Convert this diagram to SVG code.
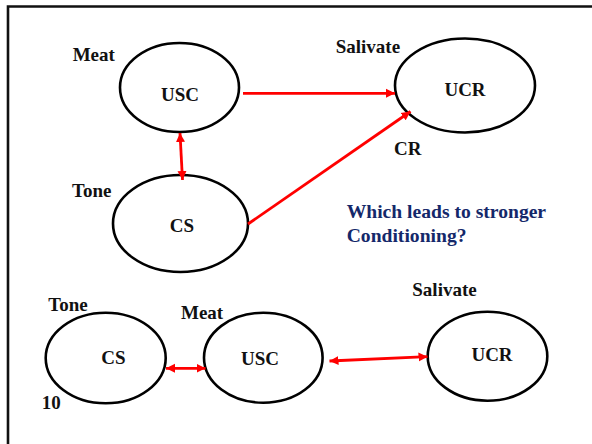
<svg xmlns="http://www.w3.org/2000/svg" width="592" height="444" viewBox="0 0 592 444" font-family="'Liberation Serif', 'Times New Roman', Times, serif" font-weight="bold" font-size="19">
<defs>
<style>
.node ellipse{fill:none;stroke:#000;stroke-width:2.6}
text{fill:#111}
.q{fill:#14286a;font-size:19.6px}
.conn line{stroke:#f00;stroke-width:2.8;fill:none}
</style>
<marker id="ah" markerUnits="userSpaceOnUse" markerWidth="10" markerHeight="10" refX="9" refY="4.5" orient="auto-start-reverse" viewBox="0 0 10 9">
<path d="M0,0 L9,4.5 L0,9 z" fill="#f00"/>
</marker>
</defs>
<rect width="592" height="444" fill="#fff"/>
<path d="M8,446 L8,6.5 L594,6.5" fill="none" stroke="#111" stroke-width="2.6"/>

<g id="usc1" class="node"><ellipse cx="179.5" cy="87.5" rx="59.5" ry="44.5"/><text x="180" y="101" text-anchor="middle">USC</text></g>
<g id="cs1" class="node"><ellipse cx="180.5" cy="223.5" rx="67.5" ry="48.5"/><text x="182" y="232" text-anchor="middle">CS</text></g>
<g id="ucr1" class="node"><ellipse cx="465" cy="85.5" rx="70" ry="47"/><text x="465" y="96" text-anchor="middle">UCR</text></g>
<g id="cs2" class="node"><ellipse cx="105.7" cy="358" rx="60" ry="45.3"/><text x="113.5" y="363.5" text-anchor="middle">CS</text></g>
<g id="usc2" class="node"><ellipse cx="263.3" cy="357.7" rx="59.3" ry="45"/><text x="260" y="364.5" text-anchor="middle">USC</text></g>
<g id="ucr2" class="node"><ellipse cx="487.5" cy="356.2" rx="59.8" ry="44.5"/><text x="492" y="361" text-anchor="middle">UCR</text></g>

<g id="connectors" class="conn">
<line x1="243" y1="93.3" x2="395" y2="93.3" marker-end="url(#ah)"/>
<line x1="248" y1="224" x2="410.5" y2="111.5" marker-end="url(#ah)"/>
<line x1="180" y1="133" x2="182.5" y2="180" marker-start="url(#ah)" marker-end="url(#ah)"/>
<line x1="166" y1="368.3" x2="205.5" y2="368.3" marker-start="url(#ah)" marker-end="url(#ah)"/>
<line x1="329.5" y1="361" x2="427.5" y2="356.7" marker-start="url(#ah)" marker-end="url(#ah)"/>
</g>

<g id="labels">
<text x="72.7" y="61">Meat</text>
<text x="72" y="196.7">Tone</text>
<text x="335.7" y="53">Salivate</text>
<text x="394" y="155">CR</text>
<text class="q" x="346.7" y="218.3">Which leads to stronger</text>
<text class="q" x="346.7" y="241.7">Conditioning?</text>
<text x="48.3" y="311">Tone</text>
<text x="181" y="318.7">Meat</text>
<text x="412.3" y="295.7">Salivate</text>
<text x="41.7" y="409.3">10</text>
</g>
</svg>
